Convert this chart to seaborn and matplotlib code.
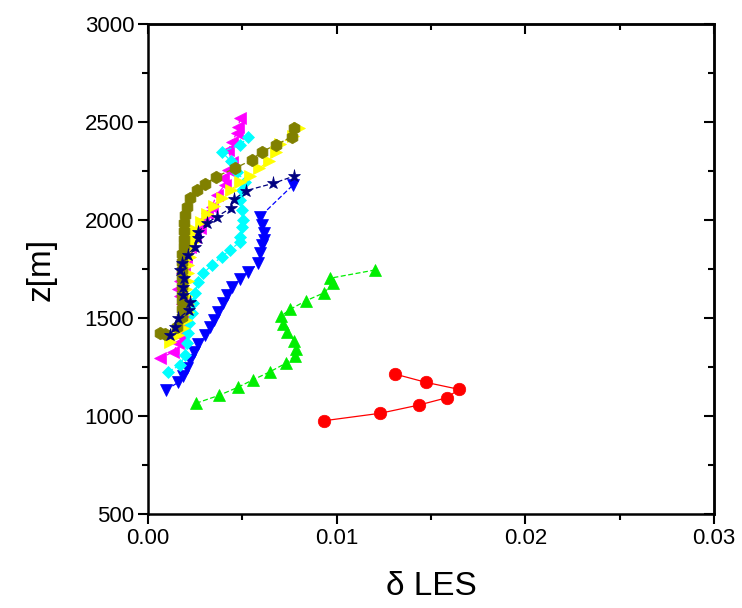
import matplotlib
matplotlib.use("Agg")
import matplotlib.pyplot as plt
from matplotlib.ticker import MultipleLocator, FormatStrFormatter
import seaborn as sns
import numpy as np

# --- profiles of delta_LES against height z [m] ---
red_x = [0.00934, 0.01231, 0.01436, 0.01583, 0.01648, 0.01472, 0.01309]
red_z = [976, 1014, 1056, 1093, 1136, 1172, 1214]

green_x = [0.00254, 0.00378, 0.00475, 0.00555, 0.00647, 0.00730, 0.00779, 0.00783,
           0.00774, 0.00738, 0.00717, 0.00705, 0.00753, 0.00837, 0.00934, 0.00979,
           0.00965, 0.01203]
green_z = [1065, 1106, 1146, 1184, 1226, 1269, 1306, 1340, 1384, 1430, 1469, 1510,
           1544, 1588, 1629, 1677, 1703, 1745]

blue_x = [0.00095, 0.00161, 0.00185, 0.00205, 0.00223, 0.00245, 0.00267, 0.00302,
          0.00329, 0.00350, 0.00373, 0.00395, 0.00417, 0.00444, 0.00488, 0.00532,
          0.00585, 0.00594, 0.00603, 0.00615, 0.00615, 0.00603, 0.00594, 0.00770]
blue_z = [1133, 1172, 1205, 1243, 1286, 1325, 1367, 1413, 1453, 1492, 1532, 1575,
          1617, 1660, 1700, 1736, 1779, 1830, 1872, 1898, 1935, 1975, 2017, 2180]

magenta_x = [0.00064, 0.00134, 0.00160, 0.00170, 0.00180, 0.00180, 0.00190, 0.00180,
             0.00170, 0.00160, 0.00170, 0.00180, 0.00190, 0.00200, 0.00220, 0.00250,
             0.00276, 0.00293, 0.00311, 0.00338, 0.00364, 0.00408, 0.00399, 0.00426,
             0.00444, 0.00426, 0.00444, 0.00470, 0.00479, 0.00488]
magenta_z = [1294, 1328, 1370, 1410, 1450, 1490, 1530, 1570, 1610, 1650, 1690, 1730,
             1770, 1810, 1860, 1915, 1958, 2000, 2034, 2068, 2128, 2179, 2213, 2255,
             2298, 2357, 2400, 2442, 2476, 2520]

cyan_x = [0.00108, 0.00170, 0.00196, 0.00205, 0.00214, 0.00219, 0.00232, 0.00240,
          0.00249, 0.00267, 0.00293, 0.00338, 0.00390, 0.00435, 0.00488, 0.00488,
          0.00497, 0.00505, 0.00497, 0.00488, 0.00497, 0.00514, 0.00470, 0.00440,
          0.00390, 0.00488, 0.00532]
cyan_z = [1226, 1260, 1311, 1371, 1422, 1473, 1524, 1575, 1626, 1685, 1728, 1770,
          1813, 1847, 1889, 1915, 1966, 2000, 2051, 2102, 2153, 2196, 2246, 2300,
          2348, 2383, 2425]

yellow_x = [0.00117, 0.00160, 0.00187, 0.00200, 0.00210, 0.00210, 0.00200, 0.00200,
            0.00210, 0.00210, 0.00210, 0.00220, 0.00230, 0.00240, 0.00240, 0.00250,
            0.00280, 0.00310, 0.00350, 0.00390, 0.00440, 0.00490, 0.00540, 0.00590,
            0.00640, 0.00680, 0.00700, 0.00770, 0.00800]
yellow_z = [1379, 1415, 1447, 1490, 1530, 1570, 1610, 1650, 1690, 1730, 1770, 1810,
            1850, 1890, 1915, 1950, 1990, 2030, 2070, 2110, 2155, 2195, 2225, 2265,
            2300, 2345, 2390, 2430, 2470]

olive_x = [0.00064, 0.00090, 0.00152, 0.00178, 0.00180, 0.00180, 0.00180, 0.00180,
           0.00180, 0.00180, 0.00180, 0.00180, 0.00190, 0.00190, 0.00190, 0.00190,
           0.00196, 0.00205, 0.00223, 0.00258, 0.00302, 0.00360, 0.00461, 0.00549,
           0.00603, 0.00678, 0.00761, 0.00774]
olive_z = [1423, 1420, 1456, 1507, 1545, 1585, 1625, 1665, 1705, 1745, 1785, 1825,
           1865, 1905, 1945, 1985, 2025, 2068, 2111, 2153, 2182, 2221, 2264, 2306,
           2349, 2383, 2425, 2468]

navy_x = [0.00117, 0.00143, 0.00161, 0.00219, 0.00223, 0.00187, 0.00187, 0.00193,
          0.00170, 0.00178, 0.00210, 0.00249, 0.00267, 0.00267, 0.00311, 0.00364,
          0.00438, 0.00456, 0.00520, 0.00664, 0.00774]
navy_z = [1413, 1456, 1498, 1541, 1583, 1617, 1660, 1703, 1745, 1779, 1822, 1864,
          1906, 1940, 1983, 2017, 2060, 2106, 2150, 2187, 2224]

x_ticks = [0.00, 0.01, 0.02, 0.03]
z_ticks = [500, 1000, 1500, 2000, 2500, 3000]

sns.set_style("ticks")
plt.rcParams["font.family"] = ["Liberation Sans", "DejaVu Sans"]
plt.rcParams["axes.labelcolor"] = "black"
plt.rcParams["text.color"] = "black"

fig = plt.figure(figsize=(7.42, 6.08), dpi=100)
ax = fig.add_axes([0.1995, 0.1546, 0.7628, 0.8059])

series = [
    (red_x, red_z, "#FF0000", "o", 9.0, "-"),
    (green_x, green_z, "#00EE00", "^", 8.5, (0, (4, 2))),
    (blue_x, blue_z, "#0000FF", "v", 8.5, (0, (4, 2))),
    (magenta_x, magenta_z, "#FF00FF", "<", 8.5, (0, (4, 2))),
    (cyan_x, cyan_z, "#00FFFF", "D", 6.5, (0, (4, 2))),
    (yellow_x, yellow_z, "#FFFF00", ">", 8.5, (0, (4, 2))),
    (olive_x, olive_z, "#808000", "h", 9.0, (0, (4, 2))),
    (navy_x, navy_z, "#000080", "*", 9.5, (0, (4, 2))),
]

for xs, zs, col, mk, ms, ls in series:
    sns.lineplot(x=np.array(xs), y=np.array(zs), ax=ax, sort=False, estimator=None,
                 color=col, marker=mk, markersize=ms, markeredgecolor=col,
                 markeredgewidth=0.5, linewidth=0.9, linestyle=ls)

ax.set_xlim(0.0, 0.03)
ax.set_ylim(500, 3000)
ax.set_xticks(x_ticks)
ax.set_yticks(z_ticks)
ax.xaxis.set_major_formatter(FormatStrFormatter("%.2f"))
ax.xaxis.set_minor_locator(MultipleLocator(0.005))
ax.yaxis.set_minor_locator(MultipleLocator(250))

for sp in ax.spines.values():
    sp.set_visible(True)
    sp.set_linewidth(1.8)
    sp.set_color("black")

ax.tick_params(which="major", direction="out", length=7, width=1.5,
               labelsize=16, pad=3, colors="black")
ax.tick_params(which="minor", direction="out", length=4, width=1.5, colors="black")

# inward ticks on the top and right frame
top = ax.secondary_xaxis("top")
top.set_xticks(x_ticks)
top.xaxis.set_minor_locator(MultipleLocator(0.005))
top.tick_params(which="major", direction="in", length=7, width=1.5, labeltop=False,
                colors="black")
top.tick_params(which="minor", direction="in", length=4, width=1.5, colors="black")
top.spines["top"].set_linewidth(1.8)
right = ax.secondary_yaxis("right")
right.set_yticks(z_ticks)
right.yaxis.set_minor_locator(MultipleLocator(250))
right.tick_params(which="major", direction="in", length=7, width=1.5, labelright=False,
                  colors="black")
right.tick_params(which="minor", direction="in", length=4, width=1.5, colors="black")
right.spines["right"].set_linewidth(1.8)

ax.set_xlabel("δ LES", fontsize=24, labelpad=16, color="black")
ax.set_ylabel("z[m]", fontsize=24, labelpad=20, color="black")

fig.savefig("out.png", dpi=100)
